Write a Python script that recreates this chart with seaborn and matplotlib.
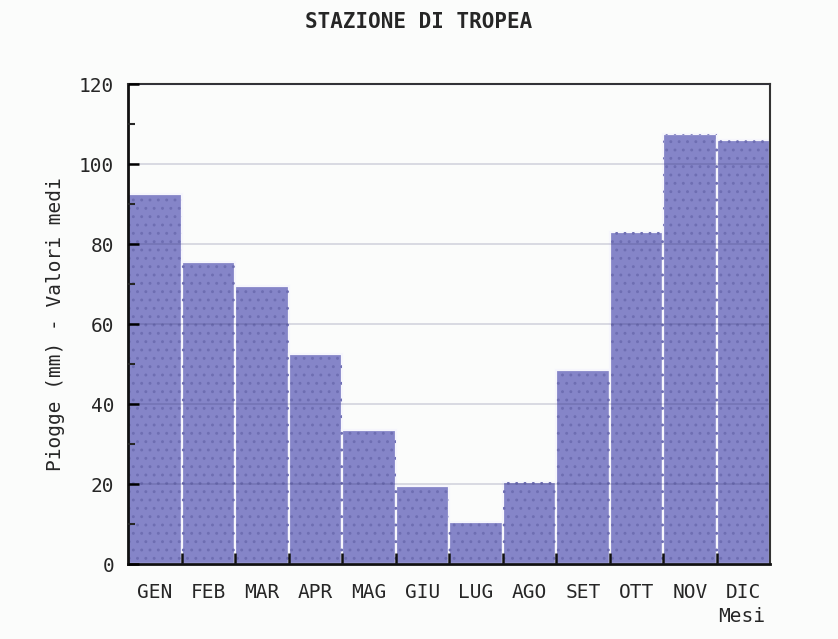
import numpy as np
import pandas as pd
import seaborn as sns
import matplotlib.pyplot as plt
from matplotlib.ticker import MultipleLocator

# dati: piogge medie mensili (mm)
mesi = ["GEN", "FEB", "MAR", "APR", "MAG", "GIU", "LUG", "AGO", "SET", "OTT", "NOV", "DIC"]
piogge = [92.5, 75.5, 69.5, 52.5, 33.5, 19.5, 10.5, 20.5, 48.5, 83, 107.5, 106]

df = pd.DataFrame({"mese": mesi, "pioggia": piogge})

sns.set_style("white")
plt.rcParams["font.family"] = ["DejaVu Sans Mono"]
plt.rcParams["hatch.linewidth"] = 0.9

fig = plt.figure(figsize=(8.38, 6.39), dpi=100, facecolor="#fbfcfb")
ax = fig.add_axes([128 / 838, 1 - 564 / 639, 642 / 838, 480 / 639])
ax.set_facecolor("#fbfcfb")

sns.barplot(data=df, x="mese", y="pioggia", color="#8585c8", saturation=1,
            width=1, edgecolor="#f6f6fc", linewidth=1.6, ax=ax)
# texture a puntini
sns.barplot(data=df, x="mese", y="pioggia", color="#8585c8", saturation=1,
            width=1, fill=False, hatch="..", linewidth=0, ax=ax)
for p in ax.patches[len(mesi):]:
    p.set_edgecolor("#6e6eb2")
    p.set_linewidth(0)

ax.set_xlim(-0.5, len(mesi) - 0.5)
ax.set_ylim(0, 120)

ax.yaxis.set_major_locator(MultipleLocator(20))
ax.yaxis.set_minor_locator(MultipleLocator(10))
ax.set_xticks(np.arange(len(mesi)))
ax.set_xticks(np.arange(len(mesi) - 1) + 0.5, minor=True)
ax.set_xticklabels(mesi)

ax.tick_params(axis="y", which="major", direction="in", length=8, width=1.8,
               left=True, right=False, labelsize=14, pad=10, color="black")
ax.tick_params(axis="y", which="minor", direction="in", length=5, width=1.5,
               left=True, right=False)
ax.tick_params(axis="x", which="major", length=0, labelsize=14, pad=14)
ax.tick_params(axis="x", which="minor", direction="in", length=8, width=1.8,
               bottom=True, color="#111111")

ax.grid(axis="y", which="major", color="#303068", alpha=0.18, linewidth=1.3)
ax.set_axisbelow(False)

for side in ["top", "right"]:
    ax.spines[side].set_color("#333333")
    ax.spines[side].set_linewidth(1.5)
for side in ["left", "bottom"]:
    ax.spines[side].set_color("#111111")
    ax.spines[side].set_linewidth(2)

ax.set_xlabel("")
ax.set_ylabel("Piogge (mm) - Valori medi", fontsize=14, labelpad=10)
fig.text(0.5, 1 - 22 / 639, "STAZIONE DI TROPEA", ha="center", va="center",
         fontsize=15, fontweight="bold")
fig.text(742 / 838, 1 - 616 / 639, "Mesi", ha="center", va="center", fontsize=14)

fig.savefig("out.png", dpi=100, facecolor=fig.get_facecolor())
